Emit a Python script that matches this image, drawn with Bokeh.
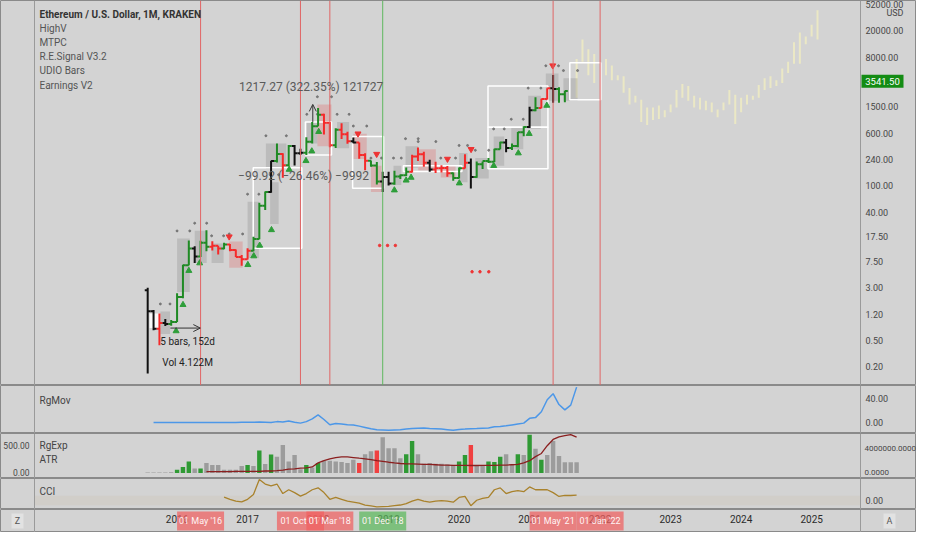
from bokeh.plotting import figure
from bokeh.layouts import column
from bokeh.models import (Range1d, LinearAxis, FixedTicker, PrintfTickFormatter, Label, Span,
                          Arrow, OpenHead, ColumnDataSource)
from bokeh.embed import file_html
from bokeh.resources import INLINE
from bokeh.core.properties import value

FONT = "Roboto"
BG = "#d3d3d3"
SEP = "#8a8a8a"

# ---------------- data ----------------
START_YEAR, START_MONTH = 2015, 8   # first monthly bar: Aug 2015

OPEN = [2.77, 1.35, 0.74, 0.90, 0.87, 0.93, 2.20, 6.50, 11.5, 8.8,
        14.1, 12.3, 12.7, 11.5, 13.2, 11.0, 8.6, 8.0, 10.7, 16.0,
        50, 80, 230, 292, 200, 386, 301, 305, 445, 755,
        1120, 855, 395, 670, 578, 455, 433, 282, 232, 198,
        114, 133, 107, 136, 141, 160, 268, 291, 218, 172,
        180, 182, 151, 129, 180, 217, 133, 206, 231, 225,
        345, 433, 360, 386, 615, 737, 1314, 1417, 1918, 2773,
        2706, 2275, 2530, 3430]
HIGH = [3.0, 1.40, 1.25, 1.03, 1.0, 2.5, 6.6, 15.2, 12.5, 15.0,
        21.5, 14.8, 12.7, 14.0, 13.5, 11.1, 9.2, 11.6, 17.3, 55,
        81, 232, 420, 300, 400, 400, 350, 520, 880, 1420,
        1160, 880, 710, 840, 630, 515, 435, 300, 235, 222,
        160, 160, 165, 145, 185, 285, 365, 317, 240, 225,
        200, 195, 155, 185, 290, 252, 227, 227, 255, 350,
        445, 490, 420, 620, 760, 1475, 2040, 1945, 2790, 4380,
        2890, 2550, 3470, 3545]
LOW = [0.16, 0.70, 0.42, 0.81, 0.82, 0.93, 2.1, 6.5, 7.0, 8.6,
       10.5, 10.8, 9.4, 11.2, 10.5, 8.6, 6.4, 7.9, 10.5, 15.8,
       43, 78, 220, 130, 192, 197, 284, 284, 420, 755,
       570, 370, 360, 490, 415, 425, 250, 168, 190, 103,
       80, 100, 102, 125, 138, 155, 230, 190, 160, 153,
       155, 134, 117, 127, 179, 90, 130, 176, 215, 223,
       345, 310, 335, 370, 540, 714, 1270, 1400, 1900, 1700,
       1700, 1720, 2450, 3380]
CLOSE = [1.35, 0.74, 0.90, 0.87, 0.93, 2.20, 6.50, 11.5, 8.8, 14.1,
         12.3, 12.7, 11.5, 13.2, 11.0, 8.6, 8.0, 10.7, 16.0, 50,
         80, 230, 292, 200, 386, 301, 305, 445, 755, 1120,
         855, 395, 670, 578, 455, 433, 282, 232, 198, 114,
         133, 107, 136, 141, 160, 268, 291, 218, 172, 180,
         182, 151, 129, 180, 217, 133, 206, 231, 225, 345,
         433, 360, 386, 615, 737, 1314, 1417, 1918, 2773, 2706,
         2275, 2530, 3430, 3541.5]
# bar state: u = up (green), d = down (red), n = neutral (black)
BAR_STATE = list("nndnuuuunuuddudddd" "uuunudunnuuuddudd" "ndduunnuuudddnddd"
                 "uudnuuuuunuuunuddnuu")

# projection bars (Sep 2021 onwards), low / high
PROJ_LOW = [2010, 6900, 4330, 3320, float("nan"), 4330, 3670, 3670, 2380, 1600,
            1710, 875, 790, 940, 970, 1035, 1220, 1440, 2010, 1820,
            1440, 1350, 1310, 1220, 1035, 1310, 1600, 820, 1220, 1600,
            1880, 2010, 2630, 2810, 3000, 3320, 4700, 6460, 6460, 12500,
            16400, 14800]
PROJ_HIGH = [7600, 14800, 10600, 9000, float("nan"), 7600, 6040, 4330, 4190, 2810,
             2150, 1880, 1440, 1440, 1540, 1310, 1600, 2630, 3210, 3000,
             2150, 2010, 1820, 1710, 1350, 1710, 2630, 2220, 2010, 2220,
             2150, 3100, 3920, 4190, 3670, 5460, 6900, 13400, 18700, 16400,
             24400, 40200]

# shaded zones (start year, end year, low, high)
GRAY_BOXES = [(2015.763, 2015.90, 0.62, 1.33), (2016.0, 2016.18, 2.6, 16.2),
              (2016.25, 2016.42, 7.0, 21.1), (2016.49, 2016.66, 7.0, 13.7),
              (2017.0, 2017.16, 8.3, 57), (2017.26, 2017.55, 177, 421),
              (2017.32, 2017.44, 26.6, 111), (2017.84, 2017.99, 421, 877),
              (2018.27, 2018.44, 357, 877), (2019.07, 2019.18, 101, 196),
              (2019.24, 2019.42, 183, 381), (2020.0, 2020.12, 111, 302),
              (2020.23, 2020.42, 127, 256), (2020.49, 2020.64, 196, 532),
              (2020.74, 2020.91, 345, 741), (2020.98, 2021.16, 693, 2150),
              (2021.23, 2021.41, 1820, 4620), (2021.48, 2021.68, 1820, 3920)]
PINK_BOXES = [(2016.74, 2016.93, 5.96, 14.6), (2017.99, 2018.19, 381, 1600),
              (2018.5, 2018.69, 247, 587), (2018.75, 2018.90, 80, 196),
              (2019.42, 2019.67, 166, 345), (2019.74, 2019.95, 131, 196)]
WHITE_FILL = [(2015.61, 2015.763, 0.757, 1.25)]
WHITE_BOXES = [(2017.08, 2017.77, 11.6, 183), (2017.82, 2018.19, 282, 877),
               (2018.49, 2018.93, 91, 532), (2019.21, 2020.04, 161, 196),
               (2020.41, 2021.26, 177, 735), (2020.41, 2021.26, 735, 3000),
               (2021.57, 2022.01, 1884, 6670)]

UP_SIGNALS = [(2015.986, 0.685), (2016.084, 1.68), (2016.167, 5.4), (2016.321, 7.0),
              (2017.004, 6.6), (2017.088, 8.9), (2017.172, 12.8), (2017.339, 21.8),
              (2017.59, 172), (2017.828, 232), (2017.911, 323), (2018.009, 628),
              (2019.082, 85), (2019.249, 119), (2019.319, 131), (2020.003, 108),
              (2020.491, 196), (2020.84, 302), (2020.994, 587), (2021.244, 1540)]
DOWN_SIGNALS = [(2016.739, 17.3), (2018.566, 587), (2018.831, 292), (2019.835, 247),
                (2020.17, 345), (2021.328, 6040)]
EARN_DOTS = [(2018.873, 12.8), (2018.985, 12.8), (2019.096, 12.8),
             (2020.184, 5.2), (2020.296, 5.2), (2020.421, 5.2)]

MARK_DATES = [2016 + 4 / 12, 2017 + 9 / 12, 2018 + 2 / 12, 2018 + 11 / 12, 2021 + 4 / 12, 2022.0]
MARK_LABELS = ["01 May '16", "01 Oct '17", "01 Mar '18", "01 Dec '18", "01 May '21", "01 Jan '22"]
MARK_KIND = ["sell", "sell", "sell", "buy", "sell", "sell"]

YEARS = [2016, 2017, 2018, 2019, 2020, 2021, 2022, 2023, 2024, 2025]
PRICE_TICKS = [0.2, 0.5, 1.2, 3, 7.5, 17.5, 40, 100, 240, 600, 1500, 8000, 20000, 52000]

# RgMov (from Sep 2015)
RGMOV = [0, 0, 0, 0, 0, 0, 0, 0, 0, 0, 0, 0, 0, 0, 0, 0.3, 0.5, 0.5, 0.8, 0.5,
         0, 1.5, 1, 2.5, 0.5, -1, 1.5, 6, 12.6, 5,
         -3.8, -1.5, -2.5, -3.8, -4, -6, -8.2, -10.5, -12, -12.5,
         -13, -12.5, -12, -11, -10, -9.5, -9.3, -10, -10.4, -11,
         -12, -13, -11.5, -11, -10.4, -10, -9.5, -9, -7, -6.6,
         -5.5, -4, -2.5, -1, 7, 8.2, 18, 38, 48, 30, 21, 29, 59]
# volume (millions) from Aug 2015 and its colour state
VOLUME = [0.08, 0.08, 0.08, 0.08, 0.1, 0.51, 0.96, 1.87, 0.71, 0.71,
          1.62, 1.27, 1.27, 0.51, 0.51, 0.51, 1.11, 1.27, 1.11, 3.65,
          1.45, 2.99, 2.63, 4.51, 1.87, 2.89, 0.61, 1.27, 0.86, 1.62,
          1.98, 1.98, 1.87, 1.77, 1.62, 2.13, 1.62, 3.04, 3.50, 3.65,
          5.78, 4.0, 4.0, 2.38, 3.04, 5.17, 3.04, 1.47, 1.62, 1.47,
          1.47, 1.37, 1.27, 1.87, 2.89, 4.51, 1.27, 1.11, 1.87, 1.77,
          2.63, 3.04, 1.37, 3.04, 2.89, 6.18, 3.90, 2.13, 2.89, 5.17,
          2.74, 1.72, 1.72, 1.72]
VOL_STATE = list("nnnnnuuunu" "nnnnnnnunu" "nunnnnnunu" "nnnnnndnnd"
                 "nnnnuunnnn" "nnnuudnnuu" "unnunununn" "nnnn")
# ATR (from Jun 2016)
ATR = [23, 23, 23, 25, 25, 27, 27, 28, 29, 29,
       35, 35, 40, 52, 69, 75, 86, 92, 109, 184,
       224, 259, 282, 293, 293, 282, 270, 259, 242, 224,
       213, 196, 184, 173, 167, 167, 161, 155, 155, 150,
       144, 144, 140, 138, 137, 136, 136, 137, 138, 140,
       144, 144, 150, 155, 184, 224, 299, 357, 500, 615,
       661, 684, 702, 656]
# CCI (from Sep 2016)
CCI = [40, 17, -3, -10, 17, 67, 225, 177, 157, 177,
       77, 117, 87, 50, 77, 117, 137, 87, 17, 37,
       17, -3, -13, -23, -43, -53, -63, -60, -58, -50,
       -43, -28, -3, 17, -3, -13, -3, 2, -3, -13,
       37, 47, -50, 7, 27, 37, 117, 137, 77, 97,
       107, 97, 147, 117, 117, 117, 87, 47, 57, 57, 60]

# ---------------- layout ----------------
W_LEFT, W_FRAME, W_RIGHT = 34, 826, 56
W_TOTAL = W_LEFT + W_FRAME + W_RIGHT
H_MAIN, H_MOV, H_EXP, H_CCI, H_TIME = 385, 48, 45, 31, 23
X0, X1 = 2013.978, 2025.693          # plotting area (left / right price-scale edge)
PX = (X1 - X0) / W_FRAME
xr = Range1d(X0 - W_LEFT * PX, X1 + W_RIGHT * PX)

GREEN, RED, BLACK = "#1f8a24", "#f52a2a", "#111111"
STATE_COL = {"u": GREEN, "d": RED, "n": BLACK}


def month_x(i):
    return START_YEAR + (START_MONTH - 1 + i) / 12


N = len(CLOSE)
XM = [month_x(i) for i in range(N)]


def style_axis(ax, size="9px"):
    ax.axis_line_color = None
    ax.major_tick_line_color = None
    ax.minor_tick_line_color = None
    ax.major_tick_out = 0
    ax.major_tick_in = 0
    ax.minor_tick_out = 0
    ax.minor_tick_in = 0
    ax.major_label_text_font = FONT
    ax.major_label_text_font_size = size
    ax.major_label_text_color = "#474747"
    ax.major_label_standoff = 5


def make_fig(h, yr, ytype="linear", yloc="right", xloc=None):
    p = figure(frame_width=W_TOTAL, frame_height=h, x_range=xr, y_range=yr, y_axis_type=ytype,
               y_axis_location=yloc, x_axis_location=xloc, output_backend="svg",
               toolbar_location=None, min_border_left=0, min_border_right=0,
               min_border_top=0, min_border_bottom=0)
    p.background_fill_color = BG
    p.border_fill_color = BG
    p.outline_line_color = SEP
    p.outline_line_width = 1
    p.grid.visible = False
    for ax in p.yaxis:
        style_axis(ax)
        ax.fixed_location = X1
    for edge in (X0, X1):
        p.add_layout(Span(location=edge, dimension="height", line_color="#9a9a9a", line_width=1))
    return p


def lab(p, x, y, text, size="10px", color="#4a4a4a", style="normal", align="left"):
    p.add_layout(Label(x=x, y=y, text=text, text_font=FONT, text_font_size=size,
                       text_color=color, text_font_style=style, text_align=align,
                       text_baseline="middle"))


# ---------------- main pane ----------------
pm = make_fig(H_MAIN, Range1d(0.106, 56100), "log")
pm.yaxis.ticker = FixedTicker(ticks=PRICE_TICKS)
pm.yaxis.formatter = PrintfTickFormatter(format="%.2f")

for d, k in zip(MARK_DATES, MARK_KIND):
    pm.add_layout(Span(location=d, dimension="height",
                       line_color="#e06666" if k == "sell" else "#5fb85f", line_width=1))

# projection
pxs = [month_x(N - 1 + j) for j in range(len(PROJ_LOW))]
pm.segment(x0=pxs, y0=PROJ_LOW, x1=pxs, y1=PROJ_HIGH, line_color="#ebe8c5", line_width=2)


def quads(boxes):
    return dict(left=[b[0] for b in boxes], right=[b[1] for b in boxes],
                bottom=[b[2] for b in boxes], top=[b[3] for b in boxes])


pm.quad(source=ColumnDataSource(quads(WHITE_FILL)), fill_color="white", fill_alpha=0.85, line_color=None)
pm.quad(source=ColumnDataSource(quads(GRAY_BOXES)), fill_color="#8c8c8c", fill_alpha=0.32, line_color=None)
pm.quad(source=ColumnDataSource(quads(PINK_BOXES)), fill_color="#e07272", fill_alpha=0.35, line_color=None)
pm.quad(source=ColumnDataSource(quads(WHITE_BOXES)), fill_color=None, line_color="white", line_width=1.5)

# small dots above the zones
dx, dy = [], []
for b in GRAY_BOXES + PINK_BOXES:
    for f in (0.0, 1.0):
        dx.append(b[0] + (b[1] - b[0]) * f)
        dy.append(b[3] * 1.3)
pm.scatter(dx, dy, size=2, color="#6a6a6a", alpha=0.8)

# bars
half = 1 / 24
cols = [STATE_COL[s] for s in BAR_STATE]
src = ColumnDataSource(dict(x=XM, xl=[x - half for x in XM], xr=[x + half for x in XM],
                            o=OPEN, h=HIGH, l=LOW, c=CLOSE, col=cols))
pm.segment(x0="x", y0="l", x1="x", y1="h", source=src, line_color="col", line_width=2)
pm.segment(x0="xl", y0="o", x1="x", y1="o", source=src, line_color="col", line_width=2)
pm.segment(x0="x", y0="c", x1="xr", y1="c", source=src, line_color="col", line_width=2)

pm.scatter([s[0] for s in UP_SIGNALS], [s[1] for s in UP_SIGNALS], marker="triangle",
           size=6, color="#2e9e3a")
pm.scatter([s[0] for s in DOWN_SIGNALS], [s[1] for s in DOWN_SIGNALS], marker="inverted_triangle",
           size=6, color="#ee3333")
pm.scatter([s[0] for s in EARN_DOTS], [s[1] for s in EARN_DOTS], size=2.5, color="#ee3333")

# measure annotations
pm.add_layout(Arrow(end=OpenHead(size=7, line_color="#333333", line_width=1),
                    x_start=2015.905, y_start=0.757, x_end=2016.33, y_end=0.757,
                    line_color="#333333", line_width=1))
pm.add_layout(Arrow(end=OpenHead(size=7, line_color="#333333", line_width=1),
                    x_start=2017.925, y_start=877, x_end=2017.925, y_end=1600,
                    line_color="#333333", line_width=1))
lab(pm, 2016.88, 2900, "1217.27 (322.35%) 121727", size="12px", color="#5a5a5a")
lab(pm, 2016.865, 136, "\u221299.92 (\u221226.46%) \u22129992", size="12px", color="#5a5a5a")
lab(pm, 2015.763, 0.475, "5 bars, 152d", size="10px", color="#222222")
lab(pm, 2015.79, 0.229, "Vol 4.122M", size="10px", color="#222222")

# legend
lx = X0 + 5 * PX
lab(pm, lx, 35200, "Ethereum / U.S. Dollar, 1M, KRAKEN", size="10px", color="#333333", style="bold")
for t, yv in zip(["HighV", "MTPC", "R.E.Signal V3.2", "UDIO Bars", "Earnings V2"],
                 [21400, 13400, 8150, 5120, 3100]):
    lab(pm, lx, yv, t, size="10px", color="#555555")

# price-scale extras: unit and last price badge
pm.text(x=[X1 + 43 * PX], y=[36400], text=["USD"], text_align="right", text_baseline="middle",
        text_font=value(FONT), text_font_size=value("9px"), text_color="#474747")
pm.rect(x=[X1 + 22 * PX], y=[CLOSE[-1]], width=42, height=13, width_units="screen",
        height_units="screen", fill_color="#148c14", line_color=None)
pm.text(x=[X1 + 22 * PX], y=[CLOSE[-1]], text=["%.2f" % CLOSE[-1]], text_align="center",
        text_baseline="middle", text_font=value(FONT), text_font_size=value("9.5px"),
        text_color="white")

# ---------------- RgMov ----------------
pv = make_fig(H_MOV, Range1d(-18.3, 61.7))
pv.yaxis.ticker = FixedTicker(ticks=[0, 40])
pv.yaxis.formatter = PrintfTickFormatter(format="%.2f")
pv.line(XM[1:], RGMOV, line_color="#4c97e8", line_width=1.5)
lab(pv, lx, 37, "RgMov", color="#444444")

# ---------------- RgExp / ATR ----------------
pe = make_fig(H_EXP, Range1d(-0.9e6, 6.38e6))
pe.yaxis.ticker = FixedTicker(ticks=[0, 4e6])
pe.yaxis.formatter = PrintfTickFormatter(format="%.4f")
pe.yaxis.major_label_text_font_size = "8px"
pe.yaxis.major_label_standoff = 4
pe.extra_y_ranges = {"atr": Range1d(-103, 724)}
la = LinearAxis(y_range_name="atr", ticker=FixedTicker(ticks=[0, 500]),
                formatter=PrintfTickFormatter(format="%.2f"))
style_axis(la, "8.5px")
la.fixed_location = X0
pe.add_layout(la, "left")
vcol = {"u": "#2f9a34", "d": "#f04040", "n": "#9c9c9c"}
pe.vbar(x=XM, top=[v * 1e6 for v in VOLUME], bottom=0, width=0.75 / 12,
        fill_color=[vcol[s] for s in VOL_STATE], line_color=None)
pe.line(XM[10:], ATR, y_range_name="atr", line_color="#8b1f1f", line_width=1.3)
lab(pe, lx, 4.4e6, "RgExp", color="#444444")
lab(pe, lx, 2.2e6, "ATR", color="#444444")

# ---------------- CCI ----------------
pc = make_fig(H_CCI, Range1d(-90, 235))
pc.yaxis.ticker = FixedTicker(ticks=[0])
pc.yaxis.formatter = PrintfTickFormatter(format="%.2f")
pc.quad(left=[X0], right=[X1], bottom=[-45], top=[55], fill_color="#c9b896", fill_alpha=0.15,
        line_color=None)
pc.line(XM[13:], CCI, line_color="#a9822c", line_width=1.3)
lab(pc, lx, 100, "CCI", color="#444444")

# ---------------- time axis ----------------
pt = make_fig(H_TIME, Range1d(0, 1), yloc=None, xloc="below")
xa = pt.xaxis[0]
xa.ticker = FixedTicker(ticks=YEARS)
xa.formatter = PrintfTickFormatter(format="%d")
style_axis(xa, "10px")
xa.major_label_text_color = "#2b2b2b"
xa.fixed_location = 1.0
xa.major_label_standoff = 5
xa.level = "underlay"
for d, t, k in zip(MARK_DATES, MARK_LABELS, MARK_KIND):
    pt.rect(x=[d], y=[0.5], width=47, height=19, width_units="screen", height_units="screen",
            fill_color="#f06060" if k == "sell" else "#5cb85c", fill_alpha=0.72, line_color=None)
    pt.text(x=[d], y=[0.5], text=[t], text_align="center", text_baseline="middle",
            text_font=value(FONT), text_font_size=value("9px"), text_color="#fff4f4")
for xc, t in ((X0 - 17 * PX, "Z"), (X1 + 29 * PX, "A")):
    pt.rect(x=[xc], y=[0.5], width=12, height=15, width_units="screen", height_units="screen",
            fill_color="#e2e2e2", line_color=None)
    pt.text(x=[xc], y=[0.5], text=[t], text_align="center", text_baseline="middle",
            text_font=value(FONT), text_font_size=value("9px"), text_color="#555555")

layout = column(pm, pv, pe, pc, pt, spacing=0)
open("out.html", "w").write(file_html(layout, INLINE))
